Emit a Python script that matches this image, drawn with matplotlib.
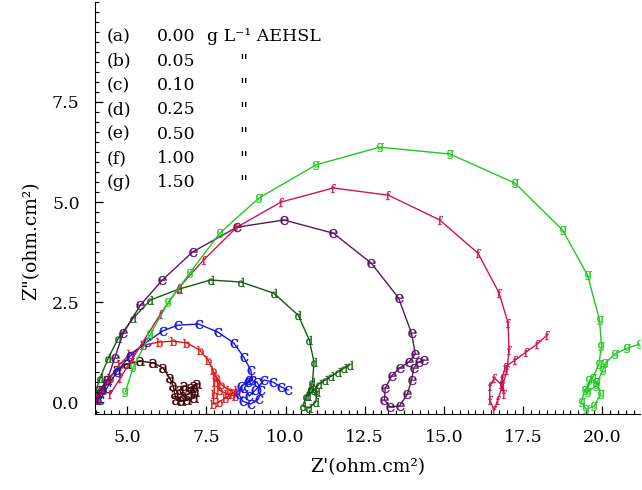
import matplotlib
matplotlib.use('Agg')
from matplotlib import pyplot as plt
from matplotlib.ticker import MultipleLocator

plt.rcParams['font.family'] = ['DejaVu Serif']
plt.rcParams['mathtext.fontset'] = 'dejavuserif'

# Nyquist data (Z', Z'')
a_x = [3.98, 4.14, 4.35, 4.66, 4.98, 5.40, 5.82, 6.13, 6.34, 6.45, 6.5, 6.55, 6.7, 6.9, 7.1, 7.15, 7.0, 6.8, 6.65, 6.75, 6.95, 7.1, 7.2]
a_y = [0.05, 0.3, 0.55, 0.8, 0.95, 1.02, 0.98, 0.85, 0.6, 0.4, 0.2, 0.05, 0.02, 0.05, 0.1, 0.25, 0.35, 0.4, 0.3, 0.15, 0.2, 0.4, 0.45]

b_x = [4.08, 4.24, 4.45, 4.77, 5.08, 5.50, 6.0, 6.45, 6.87, 7.29, 7.55, 7.71, 7.76, 7.74, 7.72, 7.9, 8.1, 8.3, 8.45, 8.2, 7.95, 7.8, 7.9, 8.15, 8.4]
b_y = [0.05, 0.3, 0.6, 0.95, 1.2, 1.42, 1.5, 1.52, 1.48, 1.3, 1.05, 0.8, 0.5, 0.2, -0.05, 0.0, 0.1, 0.2, 0.3, 0.3, 0.45, 0.65, 0.3, 0.2, 0.15]

c_x = [4.14, 4.35, 4.66, 5.08, 5.61, 6.13, 6.59, 7.25, 7.86, 8.37, 8.68, 8.9, 8.95, 8.8, 8.6, 8.52, 8.65, 8.9, 9.15, 9.22, 9.1, 8.85, 8.7, 8.85, 9.05, 9.32, 9.6, 9.86, 10.08]
c_y = [0.05, 0.35, 0.75, 1.15, 1.5, 1.78, 1.92, 1.95, 1.75, 1.47, 1.12, 0.8, 0.55, 0.5, 0.4, 0.2, 0.02, -0.05, 0.08, 0.3, 0.5, 0.55, 0.35, 0.15, 0.3, 0.55, 0.5, 0.38, 0.3]

d_x = [3.93, 4.14, 4.4, 4.72, 5.19, 5.73, 6.62, 7.63, 8.59, 9.63, 10.40, 10.75, 10.9, 10.85, 10.65, 10.55, 10.75, 10.95, 11.0, 10.8, 10.7, 10.9, 11.05, 11.25, 11.45, 11.65, 11.85, 12.02]
d_y = [0.1, 0.6, 1.1, 1.6, 2.1, 2.55, 2.82, 3.05, 3.0, 2.72, 2.17, 1.55, 1.0, 0.5, 0.15, -0.1, -0.15, 0.0, 0.25, 0.35, 0.15, 0.3, 0.45, 0.55, 0.65, 0.75, 0.85, 0.93]

e_x = [4.05, 4.2, 4.37, 4.6, 4.87, 5.41, 6.11, 7.06, 8.46, 9.95, 11.51, 12.71, 13.57, 13.98, 14.1, 13.9, 13.6, 13.35, 13.15, 13.12, 13.3, 13.6, 13.85, 13.98, 14.05, 14.2, 14.37]
e_y = [0.1, 0.3, 0.55, 1.1, 1.72, 2.42, 3.05, 3.75, 4.37, 4.55, 4.22, 3.47, 2.6, 1.72, 1.2, 1.0, 0.85, 0.65, 0.35, 0.05, -0.12, -0.1, 0.2, 0.55, 0.85, 1.0, 1.05]

f_x = [4.46, 4.78, 5.19, 6.05, 6.62, 7.41, 8.46, 9.86, 11.51, 13.25, 14.87, 16.08, 16.75, 17.03, 17.06, 17.0, 16.85, 16.7, 16.59, 16.45, 16.45, 16.6, 16.8, 16.9, 16.85, 16.94, 17.25, 17.6, 17.95, 18.27]
f_y = [0.2, 0.6, 1.12, 2.2, 2.85, 3.55, 4.37, 5.0, 5.35, 5.17, 4.55, 3.72, 2.72, 1.97, 1.3, 0.8, 0.4, 0.05, -0.2, 0.05, 0.4, 0.6, 0.45, 0.2, 0.6, 0.88, 1.05, 1.25, 1.45, 1.68]

g_x = [4.94, 5.19, 5.73, 6.30, 6.97, 7.92, 9.16, 10.97, 12.97, 15.19, 17.25, 18.75, 19.54, 19.92, 19.98, 19.9, 19.7, 19.45, 19.35, 19.5, 19.75, 19.95, 19.85, 19.6, 19.55, 19.8, 20.02, 20.1, 20.4, 20.8, 21.19]
g_y = [0.25, 0.88, 1.7, 2.5, 3.22, 4.22, 5.1, 5.93, 6.37, 6.2, 5.47, 4.3, 3.17, 2.05, 1.4, 0.95, 0.6, 0.3, 0.0, -0.18, -0.1, 0.2, 0.5, 0.55, 0.25, 0.4, 0.8, 0.97, 1.2, 1.35, 1.45]

letters = ['a', 'b', 'c', 'd', 'e', 'f', 'g']
conc = ['0.00', '0.05', '0.10', '0.25', '0.50', '1.00', '1.50']
colors = ['#3d0808', '#e01414', '#1616e0', '#115c11', '#5a1664', '#cc1454', '#22c822']
curves = [(a_x, a_y), (b_x, b_y), (c_x, c_y), (d_x, d_y), (e_x, e_y), (f_x, f_y), (g_x, g_y)]

fig = plt.figure(figsize=(6.42, 4.9), dpi=100)
ax = fig.add_axes([0.148, 0.155, 0.849, 0.841])

for (xs, ys), let, col in zip(curves, letters, colors):
	ax.plot(xs, ys, color=col, lw=1.0, marker=r'$\mathrm{%s}$' % let, ms=6.5, mew=0.2)

ax.set_xlim(3.98, 21.2)
ax.set_ylim(-0.3, 10.0)
ax.xaxis.set_minor_locator(MultipleLocator(0.25))
ax.yaxis.set_minor_locator(MultipleLocator(0.25))
ax.set_yticks([0, 2.5, 5.0, 7.5])
ax.set_yticklabels(['0.0', '2.5', '5.0', '7.5'])
ax.set_xticks([5, 7.5, 10, 12.5, 15, 17.5, 20])
ax.set_xticklabels(['5.0', '7.5', '10.0', '12.5', '15.0', '17.5', '20.0'])
ax.tick_params(which='major', direction='in', length=6, width=0.9, labelsize=12.5, pad=11)
ax.tick_params(which='minor', direction='in', length=3, width=0.8)
ax.spines['top'].set_visible(False)
ax.spines['right'].set_visible(False)

ax.set_xlabel("Z'(ohm.cm²)", fontsize=13.5)
ax.set_ylabel('Z"(ohm.cm²)', fontsize=13.5)
ax.xaxis.set_label_coords(0.5, -0.108)
ax.yaxis.set_label_coords(-0.10, 0.42)

for i, (let, c) in enumerate(zip(letters, conc)):
	yy = 0.915 - i * 0.059
	ax.text(0.022, yy, '(%s)' % let, transform=ax.transAxes, fontsize=12.5, va='center')
	ax.text(0.114, yy, c, transform=ax.transAxes, fontsize=12.5, va='center')
	if i == 0:
		ax.text(0.206, yy, 'g L⁻¹ AEHSL', transform=ax.transAxes, fontsize=12.5, va='center')
	else:
		ax.text(0.272, yy, '"', transform=ax.transAxes, fontsize=12.5, va='center', ha='center')

fig.savefig('out.png', dpi=100)
